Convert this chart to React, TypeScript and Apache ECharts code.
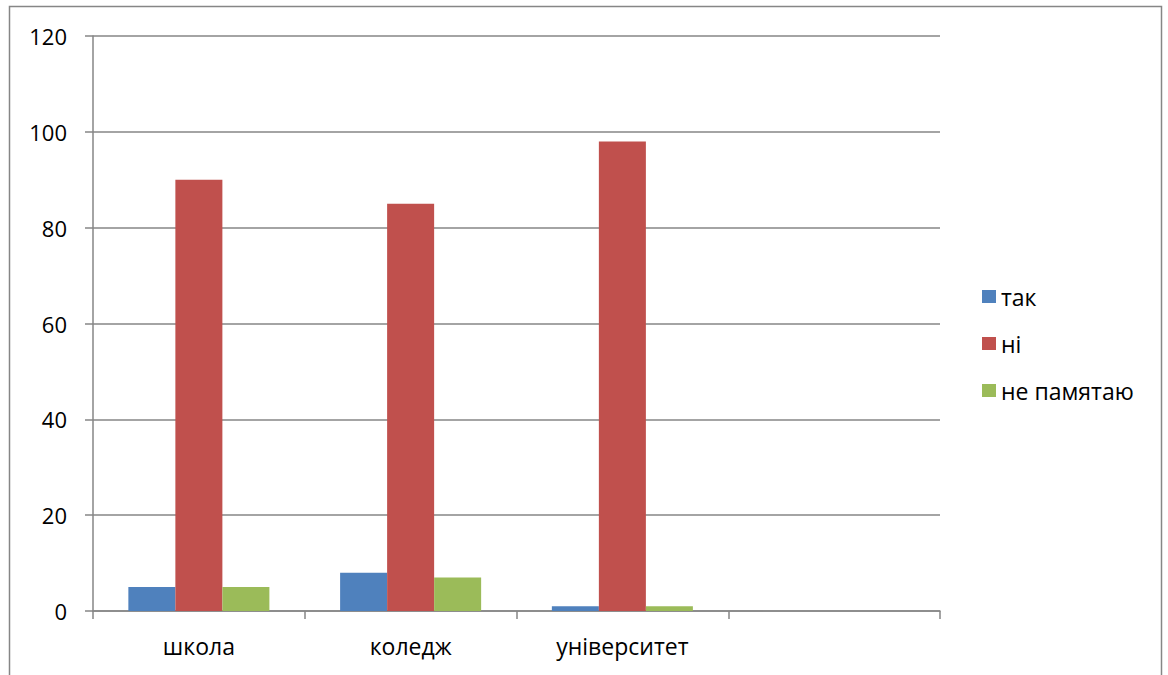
import React, { useEffect, useRef } from "react";
import * as echarts from "echarts";

// Survey answers by type of institution (the fourth slot is an empty category)
const categories = ["школа", "коледж", "університет", ""];
const seriesNames = ["так", "ні", "не памятаю"];
const yesValues = [5, 8, 1];
const noValues = [90, 85, 98];
const dontRememberValues = [5, 7, 1];
const seriesColors = ["#4F81BD", "#C0504D", "#9BBB59"];

const FONT = "'Open Sans', 'Noto Sans', sans-serif";
const AXIS_GRAY = "#868686";

export default function App() {
  const ref = useRef<HTMLDivElement>(null);

  useEffect(() => {
    if (!ref.current) return;
    const chart = echarts.init(ref.current, undefined, { renderer: "svg" });
    const values = [yesValues, noValues, dontRememberValues];

    chart.setOption({
      animation: false,
      backgroundColor: "#ffffff",
      textStyle: { fontFamily: FONT, color: "#000" },
      graphic: [
        {
          type: "rect",
          shape: { x: 9.5, y: 6.5, width: 1152, height: 720 },
          style: { fill: "none", stroke: AXIS_GRAY, lineWidth: 1.5 },
          z: -1,
        },
      ],
      grid: { left: 93, right: 228, top: 36, bottom: 64 },
      legend: {
        orient: "vertical",
        left: 982,
        top: 285,
        padding: 0,
        itemWidth: 14,
        itemHeight: 13,
        itemGap: 24,
        icon: "rect",
        data: seriesNames,
        textStyle: { fontFamily: FONT, fontSize: 23, color: "#000", lineHeight: 22 },
      },
      xAxis: {
        type: "category",
        data: categories,
        axisLine: { show: true, lineStyle: { color: AXIS_GRAY, width: 1.5 } },
        axisTick: { show: true, length: 8, lineStyle: { color: AXIS_GRAY, width: 1.5 } },
        axisLabel: { fontFamily: FONT, fontSize: 23, color: "#000", margin: 23 },
        splitLine: { show: false },
      },
      yAxis: {
        type: "value",
        min: 0,
        max: 120,
        interval: 20,
        axisLine: { show: true, lineStyle: { color: AXIS_GRAY, width: 1.5 } },
        axisTick: { show: true, length: 8, lineStyle: { color: AXIS_GRAY, width: 1.5 } },
        axisLabel: { fontFamily: FONT, fontSize: 22, color: "#000", margin: 26 },
        splitLine: { show: true, lineStyle: { color: AXIS_GRAY, width: 1.5 } },
      },
      series: seriesNames.map((name, i) => ({
        name,
        type: "bar",
        data: values[i],
        barGap: "0%",
        barCategoryGap: "33.4%",
        itemStyle: { color: seriesColors[i] },
      })),
    });

    return () => chart.dispose();
  }, []);

  return (
    <div
      ref={ref}
      style={{ position: "absolute", left: 0, top: 0, width: 1168, height: 675 }}
    />
  );
}
